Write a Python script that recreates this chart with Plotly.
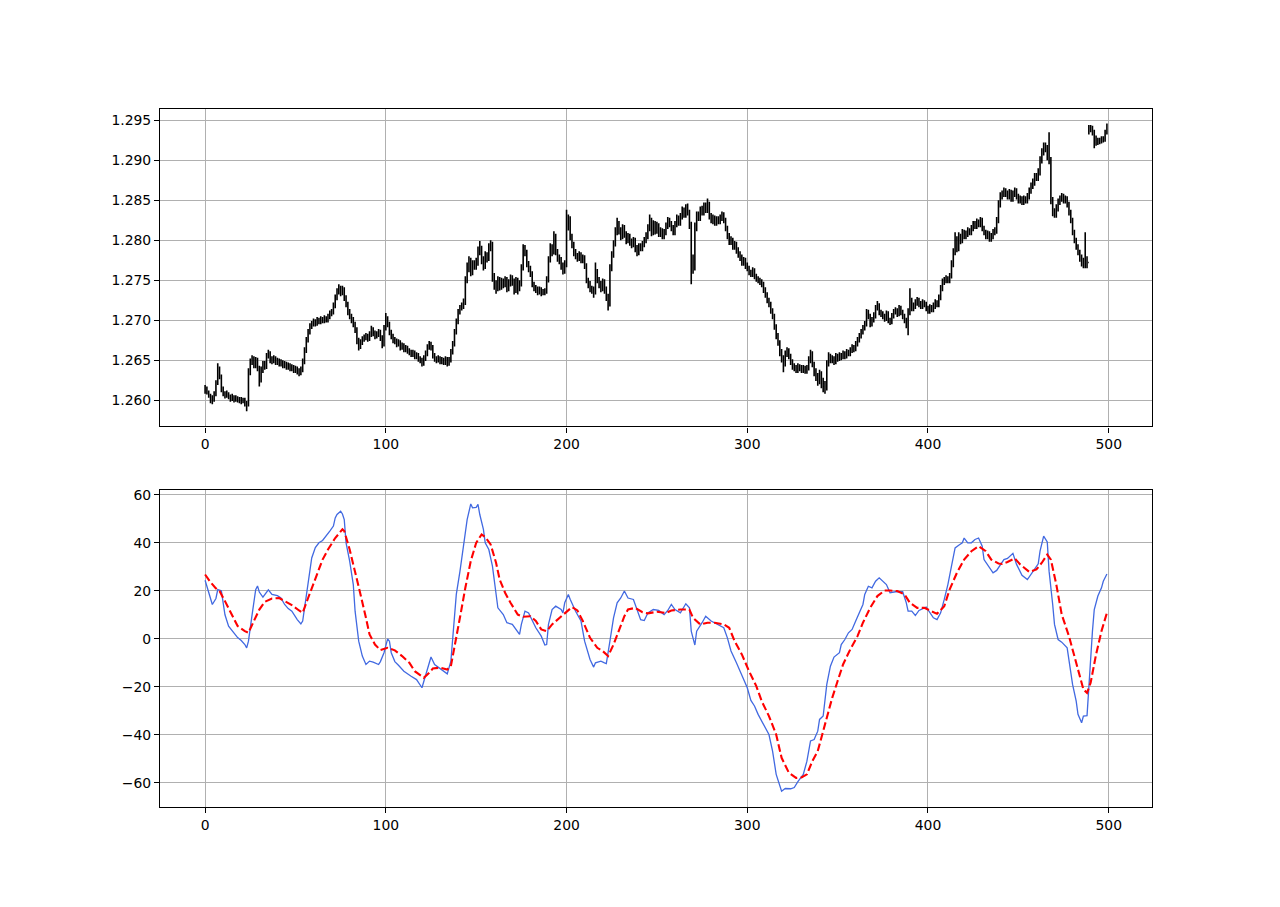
import plotly.graph_objects as go
from plotly.subplots import make_subplots

# ---------------- Data ----------------
bar_index = list(range(500))
first_open = 1.2612

closes = [
1.2615,1.2610,1.2606,1.2603,1.2601,1.2608,1.2622,1.2638,1.2630,1.2614,
1.2608,1.2606,1.2608,1.2604,1.2602,1.2604,1.2601,1.2602,1.2600,1.2601,
1.2599,1.2600,1.2596,1.2594,1.2635,1.2648,1.2652,1.2644,1.2650,1.2640,
1.2625,1.2638,1.2645,1.2642,1.2655,1.2658,1.2650,1.2650,1.2652,1.2648,
1.2649,1.2646,1.2647,1.2644,1.2645,1.2642,1.2643,1.2640,1.2641,1.2638,
1.2639,1.2636,1.2635,1.2638,1.2648,1.2662,1.2675,1.2685,1.2692,1.2695,
1.2698,1.2696,1.2700,1.2698,1.2701,1.2699,1.2702,1.2700,1.2704,1.2708,
1.2710,1.2718,1.2728,1.2735,1.2740,1.2734,1.2738,1.2728,1.2720,1.2710,
1.2705,1.2700,1.2695,1.2688,1.2675,1.2668,1.2672,1.2676,1.2678,1.2680,
1.2677,1.2682,1.2688,1.2684,1.2680,1.2682,1.2685,1.2678,1.2670,1.2690,
1.2702,1.2695,1.2685,1.2680,1.2675,1.2674,1.2670,1.2672,1.2666,1.2668,
1.2664,1.2665,1.2662,1.2660,1.2658,1.2659,1.2655,1.2656,1.2652,1.2650,
1.2646,1.2652,1.2658,1.2666,1.2670,1.2666,1.2656,1.2652,1.2650,1.2652,
1.2649,1.2650,1.2648,1.2651,1.2647,1.2650,1.2660,1.2670,1.2685,1.2698,
1.2710,1.2715,1.2718,1.2722,1.2750,1.2765,1.2775,1.2760,1.2770,1.2768,
1.2772,1.2785,1.2790,1.2775,1.2768,1.2780,1.2778,1.2790,1.2795,1.2755,
1.2745,1.2740,1.2750,1.2742,1.2748,1.2745,1.2750,1.2740,1.2746,1.2752,
1.2748,1.2738,1.2750,1.2740,1.2745,1.2765,1.2790,1.2785,1.2770,1.2765,
1.2758,1.2745,1.2740,1.2738,1.2736,1.2738,1.2734,1.2735,1.2736,1.2750,
1.2775,1.2790,1.2785,1.2805,1.2785,1.2778,1.2775,1.2768,1.2762,1.2770,
1.2818,1.2828,1.2805,1.2795,1.2785,1.2780,1.2778,1.2782,1.2775,1.2778,
1.2768,1.2750,1.2745,1.2740,1.2738,1.2735,1.2760,1.2750,1.2745,1.2740,
1.2748,1.2738,1.2730,1.2720,1.2765,1.2782,1.2795,1.2810,1.2820,1.2812,
1.2805,1.2815,1.2808,1.2800,1.2805,1.2798,1.2795,1.2800,1.2790,1.2785,
1.2792,1.2790,1.2795,1.2800,1.2805,1.2815,1.2825,1.2810,1.2820,1.2812,
1.2818,1.2808,1.2812,1.2805,1.2810,1.2818,1.2825,1.2820,1.2815,1.2810,
1.2820,1.2828,1.2822,1.2830,1.2838,1.2832,1.2840,1.2835,1.2820,1.2775,
1.2765,1.2815,1.2832,1.2828,1.2838,1.2835,1.2842,1.2838,1.2845,1.2830,
1.2825,1.2828,1.2822,1.2826,1.2824,1.2828,1.2832,1.2825,1.2815,1.2805,
1.2798,1.2800,1.2792,1.2795,1.2788,1.2782,1.2778,1.2772,1.2775,1.2768,
1.2765,1.2760,1.2758,1.2762,1.2755,1.2752,1.2750,1.2748,1.2745,1.2738,
1.2732,1.2725,1.2720,1.2712,1.2705,1.2692,1.2680,1.2672,1.2660,1.2652,
1.2645,1.2658,1.2662,1.2655,1.2648,1.2642,1.2640,1.2638,1.2642,1.2640,
1.2638,1.2640,1.2637,1.2640,1.2650,1.2658,1.2645,1.2635,1.2630,1.2625,
1.2632,1.2622,1.2618,1.2615,1.2645,1.2655,1.2650,1.2652,1.2648,1.2655,
1.2652,1.2656,1.2654,1.2658,1.2655,1.2660,1.2658,1.2662,1.2666,1.2664,
1.2670,1.2675,1.2680,1.2685,1.2690,1.2695,1.2710,1.2705,1.2695,1.2700,
1.2705,1.2715,1.2718,1.2710,1.2708,1.2705,1.2702,1.2708,1.2700,1.2698,
1.2705,1.2710,1.2712,1.2708,1.2715,1.2710,1.2705,1.2700,1.2695,1.2710,
1.2725,1.2715,1.2718,1.2722,1.2725,1.2720,1.2718,1.2722,1.2720,1.2715,
1.2712,1.2716,1.2714,1.2718,1.2722,1.2720,1.2728,1.2740,1.2748,1.2750,
1.2752,1.2750,1.2755,1.2770,1.2785,1.2800,1.2790,1.2805,1.2800,1.2810,
1.2805,1.2808,1.2812,1.2810,1.2815,1.2820,1.2818,1.2822,1.2820,1.2825,
1.2815,1.2810,1.2805,1.2808,1.2802,1.2805,1.2810,1.2812,1.2825,1.2845,
1.2855,1.2858,1.2862,1.2858,1.2855,1.2860,1.2852,1.2858,1.2862,1.2855,
1.2850,1.2852,1.2848,1.2852,1.2850,1.2855,1.2862,1.2868,1.2872,1.2880,
1.2878,1.2885,1.2900,1.2910,1.2918,1.2915,1.2905,1.2900,1.2850,1.2835,
1.2832,1.2840,1.2848,1.2852,1.2855,1.2850,1.2852,1.2845,1.2835,1.2825,
1.2810,1.2800,1.2792,1.2785,1.2778,1.2772,1.2770,1.2775,1.2772,1.2938,
1.2940,1.2935,1.2928,1.2922,1.2925,1.2924,1.2927,1.2926,1.2935,1.2942]

highs = [
1.2619,1.2617,1.2612,1.2608,1.2606,1.2611,1.2625,1.2646,1.2642,1.2632,
1.2617,1.2611,1.2612,1.2610,1.2607,1.2608,1.2606,1.2606,1.2605,1.2604,
1.2604,1.2603,1.2603,1.2599,1.2640,1.2652,1.2656,1.2655,1.2654,1.2653,
1.2643,1.2642,1.2649,1.2649,1.2659,1.2663,1.2661,1.2655,1.2656,1.2655,
1.2653,1.2652,1.2651,1.2650,1.2649,1.2648,1.2647,1.2646,1.2645,1.2644,
1.2643,1.2642,1.2640,1.2642,1.2652,1.2666,1.2679,1.2689,1.2696,1.2699,
1.2702,1.2701,1.2704,1.2703,1.2705,1.2704,1.2706,1.2705,1.2708,1.2712,
1.2714,1.2722,1.2732,1.2740,1.2745,1.2743,1.2743,1.2741,1.2731,1.2723,
1.2714,1.2708,1.2704,1.2698,1.2691,1.2678,1.2676,1.2680,1.2682,1.2684,
1.2683,1.2686,1.2693,1.2691,1.2687,1.2686,1.2689,1.2688,1.2681,1.2694,
1.2709,1.2705,1.2698,1.2688,1.2683,1.2679,1.2677,1.2676,1.2675,1.2672,
1.2671,1.2669,1.2668,1.2665,1.2663,1.2663,1.2662,1.2660,1.2659,1.2655,
1.2653,1.2656,1.2662,1.2670,1.2674,1.2673,1.2669,1.2659,1.2655,1.2656,
1.2655,1.2654,1.2653,1.2655,1.2654,1.2654,1.2664,1.2674,1.2689,1.2702,
1.2714,1.2719,1.2722,1.2727,1.2755,1.2772,1.2780,1.2778,1.2775,1.2775,
1.2778,1.2792,1.2799,1.2793,1.2780,1.2786,1.2785,1.2796,1.2800,1.2798,
1.2759,1.2750,1.2755,1.2754,1.2753,1.2752,1.2755,1.2754,1.2751,1.2757,
1.2756,1.2752,1.2754,1.2753,1.2750,1.2770,1.2795,1.2794,1.2788,1.2774,
1.2768,1.2761,1.2748,1.2744,1.2742,1.2742,1.2741,1.2739,1.2740,1.2755,
1.2780,1.2796,1.2795,1.2811,1.2808,1.2789,1.2782,1.2779,1.2772,1.2775,
1.2838,1.2832,1.2830,1.2808,1.2798,1.2789,1.2784,1.2786,1.2785,1.2782,
1.2781,1.2771,1.2753,1.2749,1.2743,1.2742,1.2772,1.2764,1.2754,1.2749,
1.2752,1.2751,1.2742,1.2733,1.2770,1.2786,1.2800,1.2816,1.2828,1.2824,
1.2816,1.2820,1.2819,1.2811,1.2809,1.2808,1.2802,1.2804,1.2803,1.2794,
1.2796,1.2796,1.2799,1.2804,1.2810,1.2820,1.2832,1.2828,1.2825,1.2824,
1.2823,1.2821,1.2816,1.2815,1.2814,1.2822,1.2829,1.2828,1.2824,1.2819,
1.2824,1.2832,1.2831,1.2834,1.2842,1.2841,1.2845,1.2846,1.2838,1.2823,
1.2782,1.2822,1.2836,1.2836,1.2842,1.2843,1.2847,1.2847,1.2852,1.2848,
1.2834,1.2832,1.2831,1.2830,1.2830,1.2832,1.2836,1.2835,1.2828,1.2818,
1.2809,1.2805,1.2803,1.2799,1.2798,1.2791,1.2786,1.2782,1.2779,1.2778,
1.2772,1.2768,1.2763,1.2766,1.2765,1.2758,1.2755,1.2753,1.2751,1.2748,
1.2741,1.2735,1.2728,1.2723,1.2715,1.2708,1.2695,1.2684,1.2675,1.2664,
1.2656,1.2662,1.2666,1.2665,1.2658,1.2651,1.2646,1.2644,1.2646,1.2645,
1.2644,1.2644,1.2643,1.2644,1.2655,1.2663,1.2661,1.2648,1.2640,1.2634,
1.2638,1.2636,1.2628,1.2624,1.2650,1.2660,1.2658,1.2656,1.2655,1.2659,
1.2658,1.2660,1.2659,1.2662,1.2661,1.2664,1.2663,1.2666,1.2670,1.2669,
1.2674,1.2679,1.2684,1.2689,1.2694,1.2699,1.2714,1.2713,1.2708,1.2704,
1.2710,1.2719,1.2724,1.2721,1.2713,1.2711,1.2708,1.2712,1.2711,1.2703,
1.2709,1.2714,1.2716,1.2715,1.2719,1.2718,1.2713,1.2708,1.2703,1.2715,
1.2740,1.2728,1.2722,1.2726,1.2729,1.2728,1.2724,1.2726,1.2725,1.2723,
1.2718,1.2720,1.2719,1.2722,1.2726,1.2725,1.2732,1.2744,1.2752,1.2754,
1.2756,1.2755,1.2759,1.2775,1.2790,1.2810,1.2805,1.2810,1.2808,1.2814,
1.2813,1.2812,1.2816,1.2815,1.2819,1.2824,1.2824,1.2827,1.2826,1.2829,
1.2828,1.2818,1.2813,1.2812,1.2811,1.2809,1.2814,1.2816,1.2829,1.2850,
1.2860,1.2862,1.2866,1.2865,1.2862,1.2864,1.2863,1.2862,1.2866,1.2865,
1.2858,1.2856,1.2855,1.2856,1.2855,1.2859,1.2866,1.2872,1.2877,1.2884,
1.2884,1.2890,1.2905,1.2915,1.2922,1.2922,1.2919,1.2935,1.2904,1.2854,
1.2840,1.2845,1.2852,1.2856,1.2859,1.2858,1.2856,1.2855,1.2848,1.2838,
1.2828,1.2813,1.2803,1.2795,1.2788,1.2782,1.2778,1.2810,1.2780,1.2944,
1.2944,1.2943,1.2938,1.2931,1.2928,1.2928,1.2930,1.2930,1.2938,1.2946]

lows = [
1.2608,1.2607,1.2603,1.2596,1.2595,1.2598,1.2605,1.2619,1.2626,1.2610,
1.2605,1.2602,1.2603,1.2601,1.2598,1.2599,1.2597,1.2598,1.2597,1.2596,
1.2595,1.2596,1.2592,1.2586,1.2592,1.2631,1.2644,1.2640,1.2640,1.2636,
1.2617,1.2622,1.2634,1.2638,1.2639,1.2652,1.2646,1.2645,1.2646,1.2644,
1.2644,1.2642,1.2642,1.2640,1.2640,1.2638,1.2638,1.2636,1.2636,1.2634,
1.2634,1.2632,1.2630,1.2631,1.2635,1.2645,1.2659,1.2672,1.2682,1.2689,
1.2692,1.2692,1.2693,1.2695,1.2695,1.2696,1.2696,1.2697,1.2697,1.2701,
1.2705,1.2707,1.2715,1.2725,1.2732,1.2730,1.2731,1.2724,1.2716,1.2706,
1.2701,1.2696,1.2691,1.2684,1.2670,1.2662,1.2664,1.2669,1.2673,1.2675,
1.2673,1.2674,1.2679,1.2680,1.2676,1.2677,1.2679,1.2674,1.2665,1.2667,
1.2687,1.2691,1.2681,1.2676,1.2671,1.2670,1.2666,1.2667,1.2662,1.2663,
1.2660,1.2660,1.2658,1.2656,1.2654,1.2654,1.2651,1.2651,1.2648,1.2646,
1.2642,1.2643,1.2649,1.2655,1.2663,1.2662,1.2652,1.2648,1.2646,1.2647,
1.2645,1.2645,1.2644,1.2644,1.2642,1.2643,1.2647,1.2657,1.2667,1.2682,
1.2695,1.2707,1.2712,1.2714,1.2719,1.2746,1.2760,1.2755,1.2756,1.2763,
1.2763,1.2768,1.2781,1.2770,1.2762,1.2764,1.2772,1.2774,1.2786,1.2748,
1.2738,1.2733,1.2736,1.2737,1.2738,1.2740,1.2741,1.2735,1.2736,1.2742,
1.2743,1.2732,1.2734,1.2732,1.2736,1.2742,1.2762,1.2780,1.2766,1.2760,
1.2754,1.2741,1.2736,1.2734,1.2731,1.2732,1.2730,1.2731,1.2731,1.2733,
1.2747,1.2772,1.2780,1.2782,1.2781,1.2773,1.2770,1.2763,1.2757,1.2758,
1.2766,1.2812,1.2800,1.2790,1.2780,1.2776,1.2773,1.2774,1.2771,1.2771,
1.2764,1.2746,1.2740,1.2735,1.2733,1.2728,1.2732,1.2746,1.2740,1.2735,
1.2736,1.2733,1.2724,1.2712,1.2717,1.2761,1.2778,1.2792,1.2806,1.2807,
1.2800,1.2801,1.2803,1.2795,1.2796,1.2793,1.2790,1.2791,1.2785,1.2780,
1.2781,1.2786,1.2786,1.2791,1.2796,1.2801,1.2811,1.2805,1.2806,1.2807,
1.2808,1.2804,1.2804,1.2801,1.2801,1.2806,1.2814,1.2816,1.2811,1.2806,
1.2806,1.2816,1.2818,1.2818,1.2826,1.2828,1.2828,1.2831,1.2814,1.2745,
1.2758,1.2762,1.2811,1.2824,1.2824,1.2831,1.2831,1.2834,1.2834,1.2826,
1.2821,1.2820,1.2818,1.2818,1.2820,1.2820,1.2824,1.2821,1.2811,1.2801,
1.2794,1.2794,1.2788,1.2788,1.2783,1.2778,1.2774,1.2768,1.2768,1.2764,
1.2761,1.2756,1.2754,1.2754,1.2751,1.2748,1.2746,1.2744,1.2741,1.2734,
1.2728,1.2721,1.2716,1.2708,1.2701,1.2688,1.2676,1.2668,1.2655,1.2647,
1.2635,1.2642,1.2654,1.2651,1.2644,1.2638,1.2636,1.2634,1.2634,1.2636,
1.2634,1.2634,1.2633,1.2633,1.2637,1.2646,1.2641,1.2630,1.2624,1.2618,
1.2620,1.2615,1.2610,1.2608,1.2612,1.2642,1.2646,1.2646,1.2644,1.2645,
1.2648,1.2649,1.2650,1.2651,1.2651,1.2652,1.2655,1.2655,1.2659,1.2660,
1.2661,1.2667,1.2672,1.2677,1.2682,1.2687,1.2692,1.2701,1.2691,1.2692,
1.2697,1.2702,1.2712,1.2706,1.2704,1.2701,1.2698,1.2699,1.2696,1.2694,
1.2695,1.2702,1.2707,1.2704,1.2705,1.2706,1.2701,1.2696,1.2690,1.2681,
1.2706,1.2711,1.2711,1.2714,1.2718,1.2716,1.2714,1.2714,1.2716,1.2711,
1.2708,1.2708,1.2710,1.2710,1.2714,1.2716,1.2716,1.2725,1.2736,1.2744,
1.2746,1.2746,1.2746,1.2752,1.2766,1.2781,1.2785,1.2786,1.2795,1.2796,
1.2801,1.2801,1.2804,1.2806,1.2806,1.2811,1.2814,1.2814,1.2816,1.2816,
1.2811,1.2806,1.2801,1.2801,1.2798,1.2798,1.2801,1.2806,1.2808,1.2821,
1.2841,1.2851,1.2854,1.2854,1.2851,1.2851,1.2848,1.2848,1.2854,1.2851,
1.2846,1.2846,1.2844,1.2844,1.2846,1.2846,1.2851,1.2858,1.2864,1.2868,
1.2874,1.2874,1.2881,1.2896,1.2906,1.2910,1.2900,1.2895,1.2845,1.2830,
1.2828,1.2828,1.2836,1.2844,1.2848,1.2846,1.2846,1.2841,1.2831,1.2821,
1.2806,1.2796,1.2788,1.2781,1.2773,1.2767,1.2765,1.2765,1.2765,1.2932,
1.2935,1.2931,1.2915,1.2918,1.2919,1.2920,1.2921,1.2922,1.2923,1.2932]

opens = [first_open] + closes[:-1]

# oscillator (blue) sampled along the curve
osc_x = [0,2,4,6,7,9,11,13,16,18,20,22,23,24,26,28,29,30,32,34,35,37,40,42,44,46,48,51,53,54,
         55,57,59,61,63,65,67,69,71,72,73,75,76,77,78,80,82,83,85,87,89,91,93,96,97,99,101,102,103,105,
         107,110,114,117,120,122,125,127,131,134,136,137,139,141,143,145,147,148,150,151,152,154,155,157,159,161,162,165,167,170,
         172,174,175,177,179,181,183,186,188,189,190,192,194,197,198,199,201,202,205,208,210,213,215,216,219,221,222,224,226,228,
         230,232,234,237,239,241,243,245,248,251,254,256,258,260,263,264,266,268,269,271,272,275,277,280,283,287,289,291,294,297,
         300,302,304,306,309,312,314,316,319,321,324,326,328,331,333,335,337,339,340,342,344,346,348,351,352,354,356,358,360,362,
         364,365,367,369,371,373,375,377,379,382,386,388,389,391,393,395,399,401,403,405,407,409,411,413,415,417,419,420,422,424,
         426,428,430,431,434,436,438,440,442,444,447,449,452,455,458,460,461,462,464,466,467,469,470,472,474,477,478,480,482,483,
         485,486,488,489,491,492,494,496,497,499]
osc_y = [24.4,19.5,14.3,16.8,20.5,20.0,10.0,5.3,2.5,0.5,-0.7,-2.4,-3.8,-1.0,10.0,20.5,22.0,19.5,17.4,19.5,20.4,18.5,18.0,17.0,14.3,12.6,11.5,8.0,6.2,7.4,
         13.0,24.0,33.7,38.0,40.0,41.0,42.8,44.9,47.0,50.4,51.8,53.2,52.0,49.7,40.0,32.4,22.6,11.5,-1.0,-7.2,-10.7,-9.3,-9.7,-10.7,-9.5,-5.8,0.0,-1.0,-5.8,-9.5,
         -11.0,-13.5,-15.6,-17.0,-20.4,-15.6,-7.6,-10.7,-12.8,-14.6,-9.3,0.4,18.5,28.0,39.0,49.7,56.2,54.6,54.8,56.0,51.8,45.6,40.0,37.2,30.3,19.9,12.9,10.1,6.7,6.0,
         3.9,1.8,6.0,11.5,10.8,8.0,4.6,1.1,-2.6,-2.4,6.0,12.2,13.6,12.2,10.8,15.0,18.5,16.5,11.5,7.4,-1.0,-8.6,-11.8,-10.0,-9.3,-10.0,-10.3,-1.0,8.75,15.0,
         17.0,19.9,17.0,16.4,12.2,8.0,7.6,10.8,12.2,11.8,10.1,11.8,14.3,12.2,10.8,12.0,14.6,12.9,3.2,-2.6,3.2,6.7,9.4,7.4,6.2,4.6,0.4,-5.1,-10.0,-14.9,
         -20.4,-25.7,-28.0,-31.5,-35.7,-39.9,-46.8,-56.5,-63.5,-62.4,-62.5,-62.0,-59.5,-56.5,-51.0,-42.6,-42.0,-38.5,-33.6,-32.2,-19.0,-11.4,-7.6,-5.8,-2.4,-0.3,2.5,3.9,7.4,10.8,
         14.3,18.5,21.9,21.25,24.0,25.4,24.0,22.6,19.2,19.6,19.6,15.0,11.5,11.5,9.7,11.8,13.2,10.8,8.75,8.0,10.8,16.4,22.6,30.3,37.9,39.0,40.0,42.0,40.0,40.0,
         41.4,42.0,38.6,33.0,29.6,27.5,28.5,31.0,33.0,33.5,35.6,31.0,26.5,24.7,27.9,30.3,31.25,36.5,42.8,40.4,28.2,14.3,6.0,-0.3,-1.4,-3.75,-8.6,-19.0,-26.0,-31.5,
         -35.0,-32.2,-32.0,-19.0,3.2,12.2,17.8,21.25,24.0,27.0]

# smoothed signal (red dashed)
sig_x = [0,3,6,8,11,15,18,22,24,27,30,33,37,41,44,48,52,54,57,61,65,68,72,76,77,80,83,86,89,91,
         94,97,101,103,105,109,111,113,116,121,124,126,130,134,136,138,141,144,147,150,153,155,158,161,163,166,169,173,176,180,
         183,186,189,192,196,199,203,206,209,213,217,220,223,226,229,232,234,238,242,245,250,255,258,263,268,270,274,278,282,287,
         290,293,297,301,305,308,312,316,319,323,327,330,333,336,339,341,344,347,350,353,357,361,364,368,372,376,379,383,387,390,
         394,398,401,405,409,412,416,420,424,428,432,435,439,441,444,448,451,456,460,463,466,468,471,474,478,481,484,486,488,490,
         493,496,499]
sig_y = [26.8,23.6,21.0,19.9,15.7,9.4,5.3,3.2,2.5,7.4,12.2,15.4,16.8,17.0,15.7,14.0,11.8,10.8,17.0,25.4,33.0,37.2,42.0,45.6,44.9,37.2,28.2,18.5,8.75,1.8,
         -2.4,-4.7,-3.75,-4.4,-4.8,-7.2,-8.5,-10.0,-13.5,-16.25,-14.2,-12.4,-12.0,-12.8,-11.4,-3.75,8.75,21.25,32.4,40.0,43.5,42.4,39.3,31.7,24.7,19.2,15.0,10.1,9.2,9.4,
         7.4,3.9,3.2,6.0,8.75,10.8,13.2,11.8,7.4,0.4,-3.75,-5.1,-7.2,-2.4,3.2,9.4,12.2,12.9,11.1,10.6,11.25,10.8,11.8,12.2,12.2,8.75,6.0,6.7,6.7,6.0,
         4.6,-1.0,-6.5,-13.5,-19.7,-26.0,-32.2,-39.9,-49.6,-55.8,-58.0,-57.8,-56.5,-51.0,-46.8,-41.25,-32.9,-24.6,-17.6,-10.7,-4.4,1.1,6.7,12.9,17.8,20.1,20.1,19.9,18.5,15.0,
         12.9,12.9,11.8,10.4,13.6,20.6,27.5,33.0,36.5,38.6,36.5,33.0,31.4,31.25,32.0,33.5,31.0,27.9,28.9,31.7,35.1,33.0,22.6,10.1,1.1,-7.2,-15.6,-21.1,-22.5,-18.3,
         -6.5,3.2,10.8]

# ---------------- Figure ----------------
font = dict(family="DejaVu Sans", size=13.9, color="black")
fig = make_subplots(rows=2, cols=1, vertical_spacing=0.0)

fig.add_trace(go.Ohlc(
    x=bar_index, open=opens, high=highs, low=lows, close=closes,
    increasing=dict(line=dict(color="black", width=1.6)),
    decreasing=dict(line=dict(color="black", width=1.6)),
    tickwidth=0.4, showlegend=False, hoverinfo="skip"), row=1, col=1)

fig.add_trace(go.Scatter(
    x=osc_x, y=osc_y, mode="lines",
    line=dict(color="royalblue", width=1.3), showlegend=False), row=2, col=1)

fig.add_trace(go.Scatter(
    x=sig_x, y=sig_y, mode="lines",
    line=dict(color="red", width=2.1, dash="7.7px,3.3px"), showlegend=False), row=2, col=1)

axis_common = dict(
    showgrid=True, gridcolor="#b0b0b0", gridwidth=1.1,
    showline=True, linecolor="black", linewidth=1.1, mirror=True,
    ticks="outside", ticklen=5, tickwidth=1.1, tickcolor="black",
    tickfont=font, zeroline=False)

xticks = [0, 100, 200, 300, 400, 500]
fig.update_xaxes(range=[-24.95, 523.95], tickvals=xticks, ticktext=[str(v) for v in xticks], **axis_common)
fig.update_xaxes(rangeslider_visible=False, row=1, col=1)

top_ticks = [1.260, 1.265, 1.270, 1.275, 1.280, 1.285, 1.290, 1.295]
fig.update_yaxes(range=[1.25671, 1.29640], tickvals=top_ticks,
                 ticktext=[f"{v:.3f}" for v in top_ticks], row=1, col=1, **axis_common)
bot_ticks = [-60, -40, -20, 0, 20, 40, 60]
fig.update_yaxes(range=[-70.1, 62.2], tickvals=bot_ticks,
                 ticktext=[str(v).replace("-", "\u2212") for v in bot_ticks], row=2, col=1, **axis_common)

fig.update_layout(
    width=1280, height=907,
    margin=dict(l=160, r=128, t=109, b=100),
    paper_bgcolor="white", plot_bgcolor="white",
    font=font, showlegend=False,
    xaxis=dict(domain=[0, 1]), yaxis=dict(domain=[0.5452, 1.0]),
    xaxis2=dict(domain=[0, 1]), yaxis2=dict(domain=[0.0, 0.4548]),
)

fig.write_html("out.html")
